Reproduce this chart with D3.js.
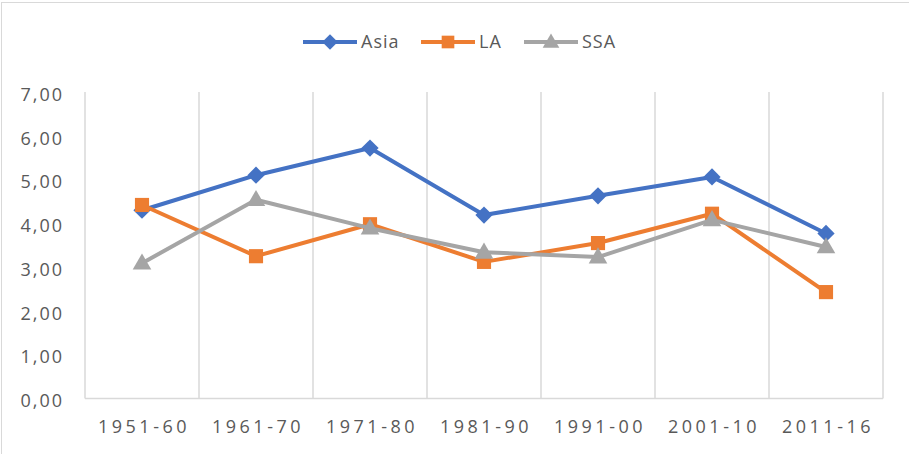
<!DOCTYPE html>
<html><head><meta charset="utf-8">
<script src="https://cdn.jsdelivr.net/npm/d3@7"></script>
<style>body{margin:0;background:#fff}svg{display:block}</style>
</head><body>
<script>
const categories = ["1951-60","1961-70","1971-80","1981-90","1991-00","2001-10","2011-16"];
const asia = [4.30, 5.10, 5.72, 4.19, 4.63, 5.06, 3.77];
const la   = [4.42, 3.25, 3.98, 3.12, 3.55, 4.22, 2.43];
const ssa  = [3.09, 4.54, 3.89, 3.34, 3.23, 4.08, 3.46];
const yTicks = [0,1,2,3,4,5,6,7];
const seriesNames = ["Asia","LA","SSA"];
const seriesColors = ["#4472C4","#ED7D31","#A5A5A5"];
const seriesShapes = [d3.symbolDiamond2, d3.symbolSquare, d3.symbolTriangle];

const W = 909, H = 454;
const svg = d3.select("body").append("svg").attr("width", W).attr("height", H);
svg.append("rect").attr("x",1.5).attr("y",2.5).attr("width",W+5).attr("height",H+5)
  .attr("fill","none").attr("stroke","#D9D9D9").attr("stroke-width",1);

const pLeft = 85, pRight = 883, pTop = 92, pBottom = 398.5;
const x = d3.scaleBand().domain(categories).range([pLeft, pRight]);
const y = d3.scaleLinear().domain([0,7]).range([pBottom, pTop]);
const fmt = v => v.toFixed(2).replace(".", ",");

// vertical gridlines at band boundaries
const bounds = categories.map(c => x(c)).concat([pRight]);
svg.append("g").selectAll("line").data(bounds).join("line")
  .attr("x1", d => d).attr("x2", d => d).attr("y1", pTop).attr("y2", pBottom)
  .attr("stroke","#D9D9D9").attr("stroke-width",1.5);
svg.append("line").attr("x1",pLeft).attr("x2",pRight).attr("y1",pBottom).attr("y2",pBottom)
  .attr("stroke","#D9D9D9").attr("stroke-width",1.5);

// y axis labels
const yAxis = d3.axisLeft(y).tickValues(yTicks).tickFormat(fmt).tickSize(0).tickPadding(0);
const gy = svg.append("g").attr("transform", `translate(64,0)`).call(yAxis);
gy.select(".domain").remove();
gy.selectAll("text").attr("fill","#595959").attr("dy","0.46em")
  .style("font-family","'Open Sans', sans-serif").style("font-size","18px").style("letter-spacing","2px");

// x axis labels
const xAxis = d3.axisBottom(x).tickSize(0).tickPadding(0);
const gx = svg.append("g").attr("transform", `translate(2,433)`).call(xAxis);
gx.select(".domain").remove();
gx.selectAll("text").attr("fill","#595959").attr("dy","0")
  .style("font-family","'Open Sans', sans-serif").style("font-size","18px").style("letter-spacing","3.5px");

const data = [asia, la, ssa];
const line = d3.line().x((d,i) => x(categories[i]) + x.bandwidth()/2).y(d => y(d));
const sizes = [190, 200, 150];
data.forEach((vals, k) => {
  svg.append("path").datum(vals).attr("d", line).attr("fill","none")
    .attr("stroke", seriesColors[k]).attr("stroke-width", 4).attr("stroke-linejoin","round");
  svg.append("g").selectAll("path").data(vals).join("path")
    .attr("transform", (d,i) => `translate(${x(categories[i]) + x.bandwidth()/2},${y(d) + (k===2?1:0)})`)
    .attr("d", d3.symbol().type(seriesShapes[k]).size(sizes[k]))
    .attr("fill", seriesColors[k]);
});

// legend
const legX = [303, 421, 524];
const lg = svg.append("g");
seriesNames.forEach((n, k) => {
  const g = lg.append("g").attr("transform", `translate(${legX[k]},42)`);
  g.append("line").attr("x1",0).attr("x2",54).attr("stroke",seriesColors[k]).attr("stroke-width",4);
  g.append("path").attr("transform",`translate(27,${k===2?1:0})`)
    .attr("d", d3.symbol().type(seriesShapes[k]).size(sizes[k]*0.8)).attr("fill",seriesColors[k]);
  g.append("text").attr("x",58).attr("y",0).attr("dy","0.36em").text(n)
    .attr("fill","#595959").style("font-family","'Open Sans', sans-serif").style("font-size","18px").style("letter-spacing","1px");
});
</script>
</body></html>
